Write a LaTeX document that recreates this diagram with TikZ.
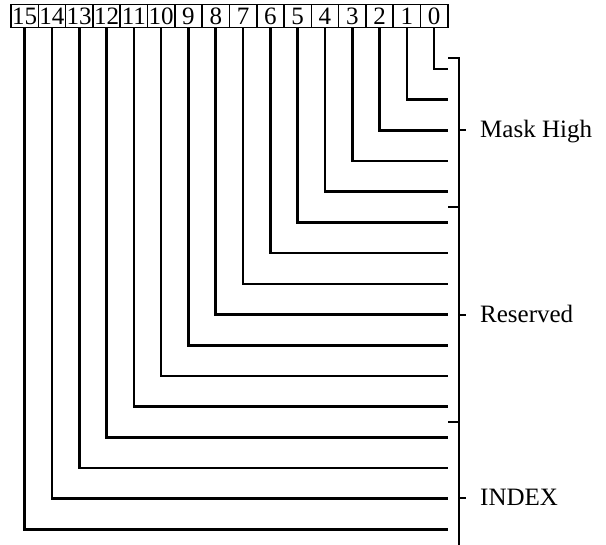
\documentclass[tikz,border=0pt]{standalone}
\usepackage{fontspec}
\setmainfont{Liberation Serif}
\usetikzlibrary{positioning}
\tikzset{
  bitbox/.style={draw,line width=1.6pt,minimum width=27.3pt,minimum height=23pt,
                 inner sep=0pt,font=\fontsize{25}{25}\selectfont},
  wire/.style={line width=2.6pt},
  brace/.style={line width=2pt},
  grouplabel/.style={anchor=base west,inner sep=0pt,font=\fontsize{25}{25}\selectfont}
}

\begin{document}
\begin{tikzpicture}[x=1pt,y=-1pt]
\useasboundingbox (0,0) rectangle (606,545);
% register bits, 15 on the left
\foreach \b in {0,...,15}{
  \node[bitbox] (bit\b) at ({11+27.3*(15-\b)+13.65},16) {\b};
}
% one wire per bit
\foreach \b in {0,...,15}{
  \coordinate (end\b) at (448,{69+30.7*\b});
  \draw[wire] (bit\b.south) |- (end\b);
}
% bracket on the right
\coordinate (mhtop) at (448,58);
\coordinate (rstop) at (448,207);
\coordinate (ixtop) at (448,422);
\coordinate (ixbot) at (459,545);
\draw[brace] (mhtop) -| (ixbot);
\foreach \c in {rstop,ixtop}
  \draw[brace] (\c) -- ++(11,0);
% field names
\foreach \name/\y/\txt in {maskhigh/130/Mask High,reserved/315/Reserved,index/498/INDEX}{
  \node[grouplabel] (\name) at (480,\y+8) {\txt};
  \draw[brace] (459,\y) -- (466,\y);
}
\end{tikzpicture}
\end{document}
